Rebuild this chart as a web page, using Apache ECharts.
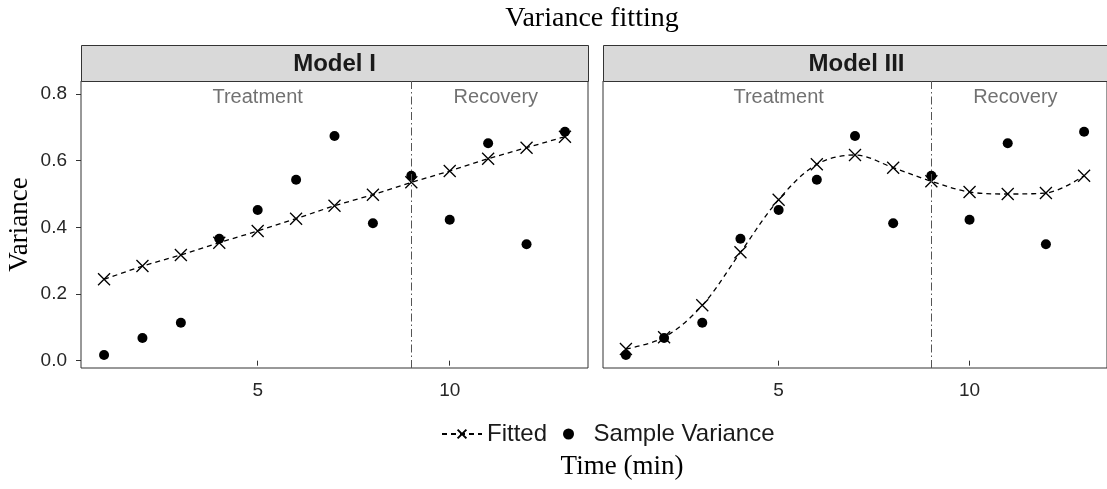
<!DOCTYPE html>
<html>
<head>
<meta charset="utf-8">
<script src="https://cdn.jsdelivr.net/npm/echarts@6/dist/echarts.min.js"></script>
<style>
html,body{margin:0;padding:0;background:#fff;}
#chart{width:1107px;height:489px;}
</style>
</head>
<body>
<div id="chart"></div>
<script>
// ---- data ----
const times = [1, 2, 3, 4, 5, 6, 7, 8, 9, 10, 11, 12, 13];
const sampleVariance = [0.017, 0.068, 0.114, 0.366, 0.452, 0.543, 0.674, 0.412, 0.555, 0.423, 0.652, 0.349, 0.687];
const fittedModelI = [0.244, 0.284, 0.317, 0.354, 0.389, 0.426, 0.465, 0.498, 0.535, 0.569, 0.606, 0.639, 0.672];
const fittedModelIII = [0.035, 0.070, 0.166, 0.325, 0.483, 0.589, 0.617, 0.579, 0.538, 0.506, 0.500, 0.503, 0.555];
const panelTitles = ['Model I', 'Model III'];
const phaseLabels = ['Treatment', 'Recovery'];
const phaseLabelX = [5, 11.2];
const phaseLabelY = 0.8;
const phaseBoundary = 9;
const xTicks = [5, 10];
const yTicks = [0, 0.2, 0.4, 0.6, 0.8];

const SANS = '"Liberation Sans", Arial, sans-serif';
const SERIF = '"Liberation Serif", "Times New Roman", serif';

const grids = [
  {left: 81, top: 81, width: 507, height: 287},
  {left: 603, top: 81, width: 507, height: 287}
];

const xSymbol = 'path://M0,0L10,10M10,0L0,10';

function pairs(xs, ys) { return xs.map((x, i) => [x, ys[i]]); }

const series = [];
const fits = [fittedModelI, fittedModelIII];
[0, 1].forEach(p => {
  series.push({
    name: 'Fitted', type: 'line', xAxisIndex: p, yAxisIndex: p,
    data: pairs(times, fits[p]),
    smooth: p === 1 ? 0.35 : false,
    symbol: xSymbol, symbolSize: 12,
    itemStyle: {color: '#000', borderColor: '#000', borderWidth: 1.3},
    lineStyle: {color: '#000', width: 1.3, type: [5, 4]},
    z: 3,
    markLine: {
      silent: true, symbol: 'none', label: {show: false},
      lineStyle: {color: '#555', width: 1, type: [8, 3, 1.5, 3]},
      data: [{xAxis: phaseBoundary}]
    }
  });
  series.push({
    name: 'Sample Variance', type: 'scatter', xAxisIndex: p, yAxisIndex: p,
    data: pairs(times, sampleVariance),
    symbol: 'circle', symbolSize: 10,
    itemStyle: {color: '#000', opacity: 1},
    z: 4
  });
  series.push({
    name: 'phase', type: 'scatter', xAxisIndex: p, yAxisIndex: p,
    data: phaseLabels.map((t, i) => ({value: [phaseLabelX[i], phaseLabelY], name: t})),
    symbolSize: 0, silent: true,
    label: {show: true, position: 'inside', formatter: '{b}', color: '#4d4d4d', fontSize: 20, fontFamily: SANS, offset: [0, 3]}
  });
});

const graphics = [];
grids.forEach((g, i) => {
  graphics.push({
    type: 'rect', left: g.left, top: 45,
    shape: {width: g.width, height: 36},
    style: {fill: '#d9d9d9', stroke: '#333', lineWidth: 1}
  });
  graphics.push({
    type: 'text', x: g.left + g.width / 2, y: 64,
    style: {text: panelTitles[i], fill: '#1a1a1a', font: 'bold 24px ' + SANS, textAlign: 'center', textVerticalAlign: 'middle'}
  });
});
graphics.push({
  type: 'text', x: 592, y: 19,
  style: {text: 'Variance fitting', fill: '#000', font: '28px ' + SERIF, textAlign: 'center', textVerticalAlign: 'middle'}
});
graphics.push({
  type: 'text', x: 622, y: 467,
  style: {text: 'Time (min)', fill: '#000', font: '27px ' + SERIF, textAlign: 'center', textVerticalAlign: 'middle'}
});

const chart = echarts.init(document.getElementById('chart'), null, {renderer: 'canvas'});
chart.setOption({
  animation: false,
  backgroundColor: '#fff',
  grid: grids.map(g => Object.assign({show: true, borderColor: '#333', borderWidth: 1, backgroundColor: '#fff'}, g)),
  xAxis: [0, 1].map(i => ({
    type: 'value', gridIndex: i, min: 0.4, max: 13.6,
    splitLine: {show: false},
    axisLine: {show: false},
    axisTick: {show: true, length: 5, customValues: xTicks, lineStyle: {color: '#333'}},
    axisLabel: {show: true, customValues: xTicks, margin: 13, color: '#262626', fontSize: 19, fontFamily: SANS}
  })),
  yAxis: [0, 1].map(i => ({
    type: 'value', gridIndex: i, min: -0.022, max: 0.839,
    name: i === 0 ? 'Variance' : '', nameLocation: 'middle', nameGap: 48,
    nameTextStyle: {fontFamily: SERIF, fontSize: 27, color: '#000'},
    splitLine: {show: false},
    axisLine: {show: false},
    axisTick: {show: i === 0, length: 5, customValues: yTicks, lineStyle: {color: '#333'}},
    axisLabel: {show: i === 0, customValues: yTicks, margin: 14, color: '#262626', fontSize: 19, fontFamily: SANS,
      formatter: v => v.toFixed(1)}
  })),
  legend: {
    data: ['Fitted', 'Sample Variance'],
    left: 436, top: 417,
    itemWidth: 40, itemHeight: 11, itemGap: 16,
    textStyle: {fontFamily: SANS, fontSize: 24, color: '#1a1a1a'}
  },
  series: series,
  graphic: graphics
});
</script>
</body>
</html>
